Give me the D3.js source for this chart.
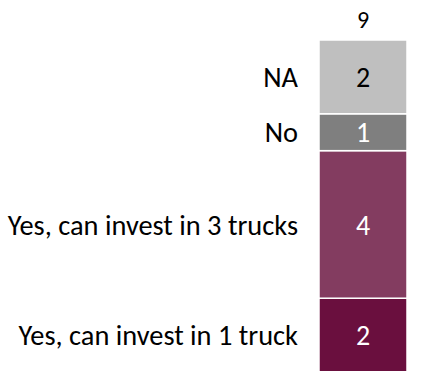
<!DOCTYPE html>
<html>
<head>
<meta charset="utf-8">
<script src="https://cdn.jsdelivr.net/npm/d3@7"></script>
<style>
  html, body { margin: 0; padding: 0; background: #fff; }
  svg { display: block; }
  text { font-family: Carlito, Calibri, Lato, "Noto Sans", sans-serif; }
</style>
</head>
<body>
<svg id="chart" width="438" height="371"></svg>
<script>
// Answers, stacked from the bottom of the bar upward
const categories = ["Yes, can invest in 1 truck", "Yes, can invest in 3 trucks", "No", "NA"];
const counts = [2, 4, 1, 2];
const colors = ["#6a0f3e", "#833c60", "#7f7f7f", "#bfbfbf"];
const valueColors = ["#ffffff", "#ffffff", "#ffffff", "#000000"];

const width = 438, height = 371;
const svg = d3.select("#chart");

const row = {};
categories.forEach((c, i) => { row[c] = counts[i]; });
const series = d3.stack().keys(categories)([row]);
const total = d3.sum(counts);

const x = d3.scaleBand().domain(["all"]).range([319, 407]).padding(0);
const y = d3.scaleLinear().domain([0, total]).range([372, 40]);

const seg = svg.append("g").selectAll("g")
  .data(series)
  .join("g");

seg.append("rect")
  .attr("x", x("all"))
  .attr("width", x.bandwidth())
  .attr("y", d => y(d[0][1]))
  .attr("height", d => y(d[0][0]) - y(d[0][1]))
  .attr("fill", (d, i) => colors[i])
  .attr("stroke", "#fff")
  .attr("stroke-width", 1.5);

// value inside each segment
seg.append("text")
  .attr("x", x("all") + x.bandwidth() / 2)
  .attr("y", d => (y(d[0][0]) + y(d[0][1])) / 2)
  .attr("dy", "0.36em")
  .attr("text-anchor", "middle")
  .attr("font-size", 28)
  .attr("fill", (d, i) => valueColors[i])
  .text((d, i) => counts[i]);

// category label to the left of each segment
seg.append("text")
  .attr("x", 298)
  .attr("y", d => (y(d[0][0]) + y(d[0][1])) / 2)
  .attr("dy", "0.36em")
  .attr("text-anchor", "end")
  .attr("font-size", 28.4)
  .attr("fill", "#000")
  .text((d, i) => categories[i]);

// total above the bar
svg.append("text")
  .attr("x", x("all") + x.bandwidth() / 2)
  .attr("y", y(total) - 12)
  .attr("text-anchor", "middle")
  .attr("font-size", 24)
  .attr("fill", "#000")
  .text(total);
</script>
</body>
</html>
